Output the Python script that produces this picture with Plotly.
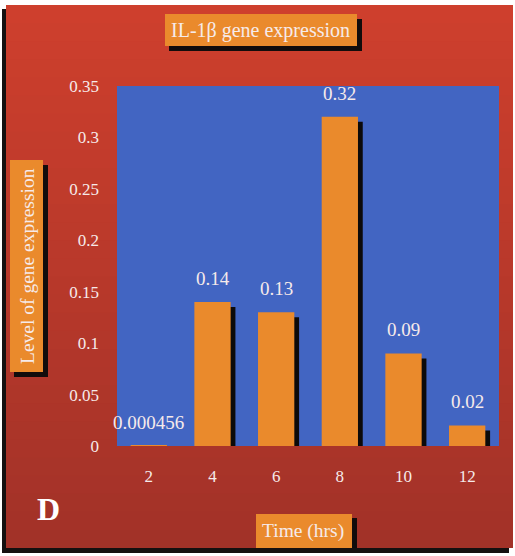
import plotly.graph_objects as go

# Time points (hours) and IL-1beta expression levels
hours = ["2", "4", "6", "8", "10", "12"]
expression = [0.000456, 0.14, 0.13, 0.32, 0.09, 0.02]
y_ticks = [0, 0.05, 0.1, 0.15, 0.2, 0.25, 0.3, 0.35]
y_tick_text = ["0", "0.05", "0.1", "0.15", "0.2", "0.25", "0.3", "0.35"]

W, H = 515, 556
PL, PR, PT, PB = 117, 499, 86, 446     # plot area in pixels
Y_MAX = 0.35

SERIF = "Liberation Serif, Times New Roman, serif"
TXT = "#f6eaea"
ORANGE = "#ea8a2c"
BLUE = "#4265c2"


def px(x):
    return (x - PL) / (PR - PL)


def py(y):
    return (PB - y) / (PB - PT)


shapes = []


def rect(x0, y0, x1, y1, color, layer="below"):
    shapes.append(dict(type="rect", xref="paper", yref="paper",
                       x0=px(x0), x1=px(x1), y0=py(y1), y1=py(y0),
                       fillcolor=color, line=dict(width=0), layer=layer))


def lerp(c0, c1, t):
    return "rgb(%d,%d,%d)" % tuple(round(a + (b - a) * t) for a, b in zip(c0, c1))


# drop shadow of the red panel, then the panel itself with a soft vertical shade
rect(2, 9, 509, 553, "#151010")
top_c, bot_c = (206, 63, 45), (162, 50, 40)
n = 30
y_a, y_b = 5, 548
for i in range(n):
    y0 = y_a + (y_b - y_a) * i / n
    y1 = y_b if i == n - 1 else y_a + (y_b - y_a) * (i + 1) / n + 4
    rect(6, y0, 513, y1, lerp(top_c, bot_c, i / (n - 1)))

# blue plotting area
rect(PL, PT, PR, PB, BLUE)

# title box
rect(169, 19, 362, 51, "#120c0c", "above")
rect(165, 14, 357, 46, ORANGE, "above")
# y-axis title box
rect(14, 165, 48, 377, "#120c0c", "above")
rect(10, 160, 43, 372, ORANGE, "above")
# x-axis title box
rect(260, 518, 357, 548, "#120c0c", "above")
rect(256, 514, 352, 548, ORANGE, "above")

fig = go.Figure()

# bar drop shadows: shifted right and starting a few pixels below each bar top
drop = 5 * Y_MAX / (PB - PT)
fig.add_trace(go.Bar(
    x=hours, y=[max(v - drop, 0) for v in expression],
    width=0.57, offset=-0.285 + 0.075,
    marker=dict(color="#0c0a0a", line=dict(width=0)),
    hoverinfo="skip", showlegend=False,
))
fig.add_trace(go.Bar(
    x=hours, y=expression,
    width=0.57, offset=-0.285,
    marker=dict(color=ORANGE, line=dict(width=0)),
    showlegend=False,
))

annotations = []
for i, v in enumerate(expression):
    annotations.append(dict(x=i, y=v, xref="x", yref="y", text=f"{v:g}",
                            showarrow=False, xanchor="center", yanchor="bottom", yshift=11,
                            font=dict(family=SERIF, size=19, color=TXT)))


def label(x, y, text, size, angle=0, color=TXT):
    return dict(x=px(x), y=py(y), xref="paper", yref="paper", text=text,
                showarrow=False, xanchor="center", yanchor="middle", textangle=angle,
                font=dict(family=SERIF, size=size, color=color))


annotations += [
    label(260, 30, "IL-1β gene expression", 20),
    label(27, 266, "Level of gene expression", 19.5, angle=-90),
    label(303, 531, "Time (hrs)", 19.5),
    label(48, 509, "<b>D</b>", 32, color="#ffffff"),
]

fig.update_layout(
    width=W, height=H,
    margin=dict(l=PL, r=W - PR, t=PT, b=H - PB, pad=0),
    paper_bgcolor="#ffffff",
    plot_bgcolor="rgba(0,0,0,0)",
    barmode="overlay",
    shapes=shapes,
    annotations=annotations,
    font=dict(family=SERIF, color=TXT),
)
fig.update_xaxes(
    type="category", range=[-0.5, len(hours) - 0.5],
    showgrid=False, zeroline=False, showline=False, ticks="",
    tickfont=dict(family=SERIF, size=17, color=TXT), ticklabelstandoff=18,
)
fig.update_yaxes(
    range=[0, Y_MAX], tickvals=y_ticks, ticktext=y_tick_text,
    showgrid=False, zeroline=False, showline=False, ticks="",
    tickfont=dict(family=SERIF, size=17, color=TXT), ticklabelstandoff=17,
)

fig.write_html("out.html")
